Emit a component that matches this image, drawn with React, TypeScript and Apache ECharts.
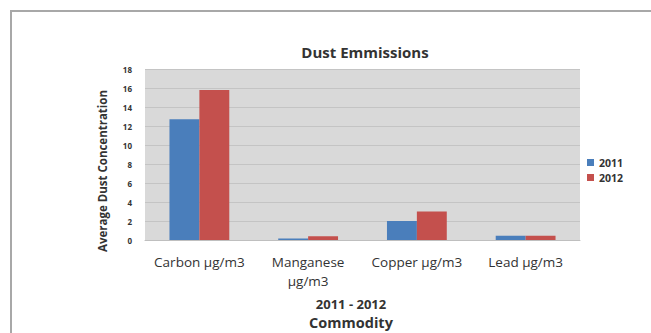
import React, { useEffect, useRef } from "react";
import * as echarts from "echarts";

const categories = ["Carbon µg/m3", "Manganese\nµg/m3", "Copper µg/m3", "Lead µg/m3"];
const series2011 = [12.7, 0.15, 2.0, 0.45];
const series2012 = [15.8, 0.4, 3.0, 0.45];
const seriesNames = ["2011", "2012"];

export default function App() {
  const ref = useRef<HTMLDivElement>(null);
  useEffect(() => {
    if (!ref.current) return;
    const chart = echarts.init(ref.current, null, { renderer: "svg" });
    const font = "'Open Sans', 'Liberation Sans', sans-serif";
    chart.setOption({
      animation: false,
      backgroundColor: "#ffffff",
      textStyle: { fontFamily: font },
      title: {
        text: "Dust Emmissions",
        left: 360,
        textAlign: "center",
        top: 39,
        textStyle: { fontSize: 15, fontWeight: "bold", color: "#333333", fontFamily: font },
      },
      legend: {
        orient: "vertical",
        left: 582,
        top: 152,
        itemWidth: 7,
        itemHeight: 7,
        itemGap: 4,
        icon: "rect",
        textStyle: { fontSize: 10.5, color: "#333333", fontWeight: "bold", fontFamily: font },
        data: seriesNames,
      },
      grid: { left: 145, right: 651 - 580, top: 69, bottom: 333 - 240, containLabel: false, show: true, backgroundColor: "#d9d9d9", borderWidth: 0 },
      xAxis: {
        type: "category",
        data: categories,
        axisLine: { show: true, lineStyle: { color: "#bfbfbf" } },
        axisTick: { show: false },
        axisLabel: { fontSize: 13.5, color: "#333333", margin: 12, lineHeight: 19, fontFamily: font, interval: 0 },
      },
      yAxis: {
        type: "value",
        min: 0,
        max: 18,
        interval: 2,
        axisLine: { show: false },
        axisTick: { show: false },
        axisLabel: { fontSize: 8, fontWeight: "bold", color: "#333333", margin: 13, fontFamily: font },
        splitLine: { show: true, lineStyle: { color: "#c4c4c4", width: 1 } },
      },
      series: [
        {
          name: seriesNames[0],
          type: "bar",
          data: series2011,
          barGap: "0%",
          barCategoryGap: "45%",
          itemStyle: { color: "#4a7ebb" },
        },
        {
          name: seriesNames[1],
          type: "bar",
          data: series2012,
          barGap: "0%",
          barCategoryGap: "45%",
          itemStyle: { color: "#c4504d" },
        },
      ],
      graphic: [
        {
          type: "rect",
          shape: { x: 11, y: 11, width: 700, height: 400 },
          style: { fill: "none", stroke: "#a8a8a8", lineWidth: 2 },
          silent: true,
        },
        {
          type: "text",
          x: 102,
          y: 171,
          rotation: Math.PI / 2,
          style: { text: "Average Dust Concentration", fontSize: 11.5, fontWeight: "bold", fill: "#333333", align: "center", verticalAlign: "middle", fontFamily: font },
        },
        {
          type: "text",
          x: 351,
          y: 304,
          style: { text: "2011 - 2012", fontSize: 13, fontWeight: "bold", fill: "#333333", align: "center", verticalAlign: "middle", fontFamily: font },
        },
        {
          type: "text",
          x: 351,
          y: 322,
          style: { text: "Commodity", fontSize: 14.5, fontWeight: "bold", fill: "#333333", align: "center", verticalAlign: "middle", fontFamily: font },
        },
      ],
    });
    return () => chart.dispose();
  }, []);
  return <div ref={ref} style={{ position: "absolute", left: 0, top: 0, width: 651, height: 333 }} />;
}
